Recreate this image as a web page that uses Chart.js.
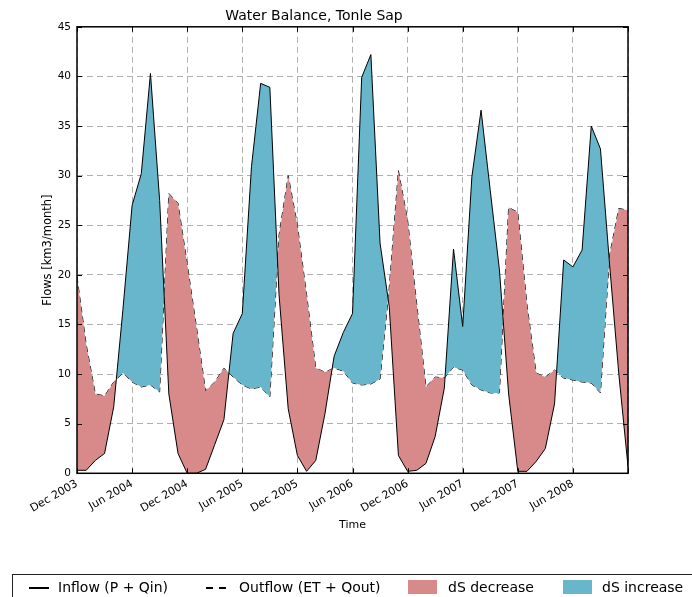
<!DOCTYPE html>
<html>
<head>
<meta charset="utf-8">
<script src="https://cdn.jsdelivr.net/npm/chart.js@4.4.1/dist/chart.umd.min.js"></script>
<style>
    body { margin: 0; background: #fff; }
    #wrap { position: relative; width: 692px; height: 597px; overflow: hidden; }
    #legend { position: absolute; left: 12px; top: 574px; width: 700px; height: 40px; border: 1px solid #222; box-sizing: border-box; font: 14px "DejaVu Sans"; color: #000; }
    #legend div { position: absolute; }
    #legend .tx { top: 4px; white-space: nowrap; }
    #legend .ln { top: 12px; width: 20px; height: 1.5px; background: #000; }
    #legend .dash { background: repeating-linear-gradient(to right, #000 0 7px, transparent 7px 13px); }
    #legend .box { top: 5px; width: 29px; height: 14px; }
</style>
</head>
<body>
<div id="wrap">
    <canvas id="chart" width="692" height="597"></canvas>
    <div id="legend">
        <div class="ln" style="left:16px"></div><div class="tx" style="left:45px">Inflow (P + Qin)</div>
        <div class="ln dash" style="left:193px"></div><div class="tx" style="left:226px">Outflow (ET + Qout)</div>
        <div class="box" id="box_dec" style="left:395px"></div><div class="tx" style="left:435px">dS decrease</div>
        <div class="box" id="box_inc" style="left:550px"></div><div class="tx" style="left:589px">dS increase</div>
    </div>
</div>
<script>
// month index 0 = Dec 2003 ... 60 = Dec 2008
var tick_labels = ['Dec 2003', 'Jun 2004', 'Dec 2004', 'Jun 2005', 'Dec 2005', 'Jun 2006',
                   'Dec 2006', 'Jun 2007', 'Dec 2007', 'Jun 2008', ''];

// Inflow (P + Qin), km3/month
var inflow = [0.3, 0.3, 1.3, 2.0, 6.7, 16.5, 27.0, 30.2, 40.3, 27.5,
              8.0, 2.0, 0.0, 0.0, 0.4, 2.9, 5.4, 14.1, 16.1, 30.9,
              39.3, 38.9, 18.0, 6.5, 1.8, 0.2, 1.3, 6.0, 11.8, 14.2,
              16.1, 39.9, 42.2, 23.2, 16.8, 1.8, 0.2, 0.3, 1.0, 3.7,
              8.6, 22.6, 14.8, 29.9, 36.6, 28.5, 20.5, 8.0, 0.2, 0.2,
              1.2, 2.5, 7.0, 21.5, 20.8, 22.5, 35.0, 32.7, 21.0, 10.0,
              0.7];

// Outflow (ET + Qout), km3/month
var outflow = [19.8, 13.0, 8.0, 7.8, 9.2, 10.1, 9.2, 8.7, 8.9, 8.2,
               28.2, 27.2, 21.1, 14.8, 8.3, 9.2, 10.6, 9.7, 8.9, 8.5,
               8.7, 7.7, 24.0, 30.0, 25.0, 18.0, 10.6, 10.2, 10.6, 10.3,
               9.1, 8.9, 9.0, 9.5, 18.7, 30.5, 25.5, 17.0, 8.7, 9.7,
               9.6, 10.7, 10.4, 8.9, 8.4, 8.1, 8.1, 26.8, 26.3, 17.0,
               10.1, 9.7, 10.4, 9.6, 9.4, 9.2, 9.1, 8.1, 22.0, 26.7,
               26.5];

var color_dec = '#d88989';
var color_inc = '#67b6cc';

document.getElementById('box_dec').style.background = color_dec;
document.getElementById('box_inc').style.background = color_inc;

function ToPoints(values) {
    return values.map(function (v, i) { return { x: i, y: v }; });
}

// box around the plot + inward ticks like matplotlib
var frame_plugin = {
    id: 'frame',
    afterDraw: function (chart) {
        var ctx = chart.ctx;
        var a = chart.chartArea;
        var xs = chart.scales.x, ys = chart.scales.y;
        ctx.save();
        ctx.strokeStyle = '#000';
        ctx.lineWidth = 1;
        ctx.setLineDash([]);
        ctx.beginPath();
        xs.ticks.forEach(function (t) {
            var p = Math.round(xs.getPixelForValue(t.value)) + 0.5;
            ctx.moveTo(p, a.bottom); ctx.lineTo(p, a.bottom - 5);
            ctx.moveTo(p, a.top); ctx.lineTo(p, a.top + 5);
        });
        ys.ticks.forEach(function (t) {
            var p = Math.round(ys.getPixelForValue(t.value)) + 0.5;
            ctx.moveTo(a.left, p); ctx.lineTo(a.left + 5, p);
            ctx.moveTo(a.right, p); ctx.lineTo(a.right - 5, p);
        });
        ctx.stroke();
        ctx.lineWidth = 1.5;
        ctx.strokeRect(a.left, a.top, a.right - a.left, a.bottom - a.top);
        ctx.restore();
    }
};

Chart.defaults.font.family = '"DejaVu Sans", sans-serif';
Chart.defaults.color = '#000';

var myChart = new Chart(document.getElementById('chart'), {
    type: 'line',
    data: {
        datasets: [{
            label: 'Inflow (P + Qin)',
            data: ToPoints(inflow),
            borderColor: '#000',
            borderWidth: 1,
            pointRadius: 0,
            tension: 0,
            fill: { target: '+1', above: color_inc, below: color_dec }
        }, {
            label: 'Outflow (ET + Qout)',
            data: ToPoints(outflow),
            borderColor: '#000',
            borderWidth: 1,
            borderDash: [6, 4],
            pointRadius: 0,
            tension: 0,
            fill: false
        }]
    },
    options: {
        responsive: false,
        animation: false,
        devicePixelRatio: 1,
        layout: { padding: { left: 0, right: 64, top: 0, bottom: 0 } },
        plugins: {
            legend: { display: false },
            tooltip: { enabled: false },
            title: {
                display: true,
                text: 'Water Balance, Tonle Sap',
                font: { size: 14, weight: 'normal' },
                padding: { top: 8, bottom: 2 }
            }
        },
        scales: {
            x: {
                type: 'linear',
                min: 0,
                max: 60,
                afterFit: function (scale) { scale.height = 123.7; },
                ticks: {
                    stepSize: 6,
                    autoSkip: false,
                    minRotation: 30,
                    maxRotation: 30,
                    padding: 4,
                    font: { size: 11 },
                    callback: function (v) { return tick_labels[Math.round(v / 6)]; }
                },
                grid: { color: '#b0b0b0', lineWidth: 1, drawTicks: false },
                border: { display: false, dash: [6, 4] },
                title: { display: true, text: 'Time', font: { size: 11 }, padding: { top: 0, bottom: 65 } }
            },
            y: {
                min: 0,
                max: 45,
                afterFit: function (scale) { scale.width = 77; },
                ticks: { stepSize: 5, padding: 6, font: { size: 10.5 } },
                grid: { color: '#b0b0b0', lineWidth: 1, drawTicks: false },
                border: { display: false, dash: [6, 4] },
                title: { display: true, text: 'Flows [km3/month]', font: { size: 11.5 }, padding: { top: 41, bottom: 0 } }
            }
        }
    },
    plugins: [frame_plugin]
});
</script>
</body>
</html>
